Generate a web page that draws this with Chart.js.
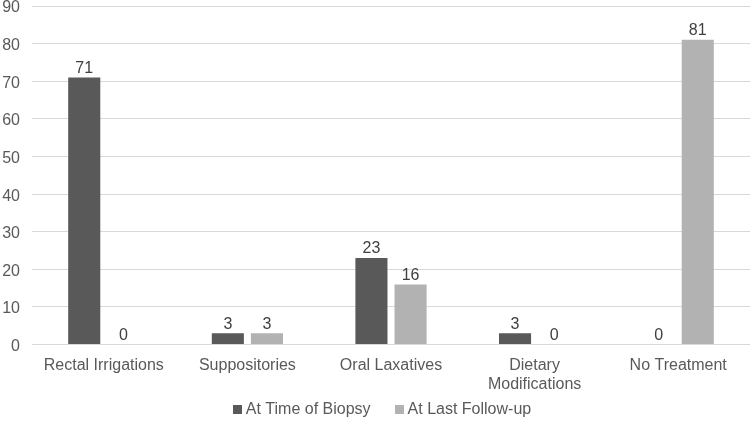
<!DOCTYPE html>
<html>
<head>
<meta charset="utf-8">
<script src="https://cdn.jsdelivr.net/npm/chart.js@4"></script>
<style>
  html, body { margin: 0; padding: 0; background: #fff; }
  #wrap { width: 750px; height: 426px; position: relative; }
</style>
</head>
<body>
<div id="wrap"><canvas id="chart"></canvas></div>
<script>
// Treatment categories and counts
const categories = ['Rectal Irrigations', 'Suppositories', 'Oral Laxatives', ['Dietary', 'Modifications'], 'No Treatment'];
const atBiopsy = [71, 3, 23, 3, 0];
const atFollowUp = [0, 3, 16, 0, 81];
const seriesNames = ['At Time of Biopsy', 'At Last Follow-up'];

const textColor = '#595959';
const fontFamily = '"Liberation Sans", Arial, sans-serif';

// Draw the value above each bar (zeros included)
const valueLabels = {
    id: 'valueLabels',
    afterDatasetsDraw(chart) {
        const ctx = chart.ctx;
        ctx.save();
        ctx.font = '16px ' + fontFamily;
        ctx.fillStyle = '#404040';
        ctx.textAlign = 'center';
        ctx.textBaseline = 'bottom';
        chart.data.datasets.forEach((ds, i) => {
            const meta = chart.getDatasetMeta(i);
            meta.data.forEach((bar, j) => {
                ctx.fillText(String(ds.data[j]), bar.x, bar.y - 1);
            });
        });
        ctx.restore();
    }
};

// Legend drawn at the bottom, Excel style (small square + label)
const bottomLegend = {
    id: 'bottomLegend',
    afterDraw(chart) {
        const ctx = chart.ctx;
        const box = 9, gap = 4, spacing = 24;
        const cy = 409, cx = 382;
        ctx.save();
        ctx.font = '16px ' + fontFamily;
        ctx.textBaseline = 'middle';
        const items = chart.data.datasets.map(ds => ({
            text: ds.label,
            color: ds.backgroundColor,
            w: ctx.measureText(ds.label).width
        }));
        let total = 0;
        items.forEach((it, i) => {
            total += box + gap + it.w + (i > 0 ? spacing : 0);
        });
        let x = cx - total / 2;
        items.forEach(it => {
            ctx.fillStyle = it.color;
            ctx.fillRect(Math.round(x), Math.round(cy - box / 2), box, box);
            ctx.fillStyle = textColor;
            ctx.fillText(it.text, x + box + gap, cy + 1);
            x += box + gap + it.w + spacing;
        });
        ctx.restore();
    }
};

const ctx = document.getElementById('chart').getContext('2d');
new Chart(ctx, {
    type: 'bar',
    data: {
        labels: categories,
        datasets: [
            {
                label: seriesNames[0],
                data: atBiopsy,
                backgroundColor: '#595959',
                barPercentage: 0.82,
                categoryPercentage: 0.545
            },
            {
                label: seriesNames[1],
                data: atFollowUp,
                backgroundColor: '#b2b2b2',
                barPercentage: 0.82,
                categoryPercentage: 0.545
            }
        ]
    },
    options: {
        responsive: true,
        maintainAspectRatio: false,
        animation: false,
        layout: {
            padding: { top: 0, right: 0, bottom: 29, left: 0 }
        },
        plugins: {
            legend: { display: false },
            tooltip: { enabled: false }
        },
        scales: {
            x: {
                grid: { display: false },
                border: { color: '#d9d9d9', width: 1 },
                ticks: {
                    color: textColor,
                    font: { size: 16, family: fontFamily },
                    maxRotation: 0,
                    padding: 3
                }
            },
            y: {
                min: 0,
                max: 90,
                border: { display: false },
                grid: { color: '#d9d9d9', drawTicks: false },
                ticks: {
                    stepSize: 10,
                    color: textColor,
                    font: { size: 16, family: fontFamily },
                    padding: 12,
                    labelOffset: 2
                },
                afterFit(scale) {
                    scale.width = 32;
                    scale.paddingTop = 6;
                }
            }
        }
    },
    plugins: [valueLabels, bottomLegend]
});
</script>
</body>
</html>
